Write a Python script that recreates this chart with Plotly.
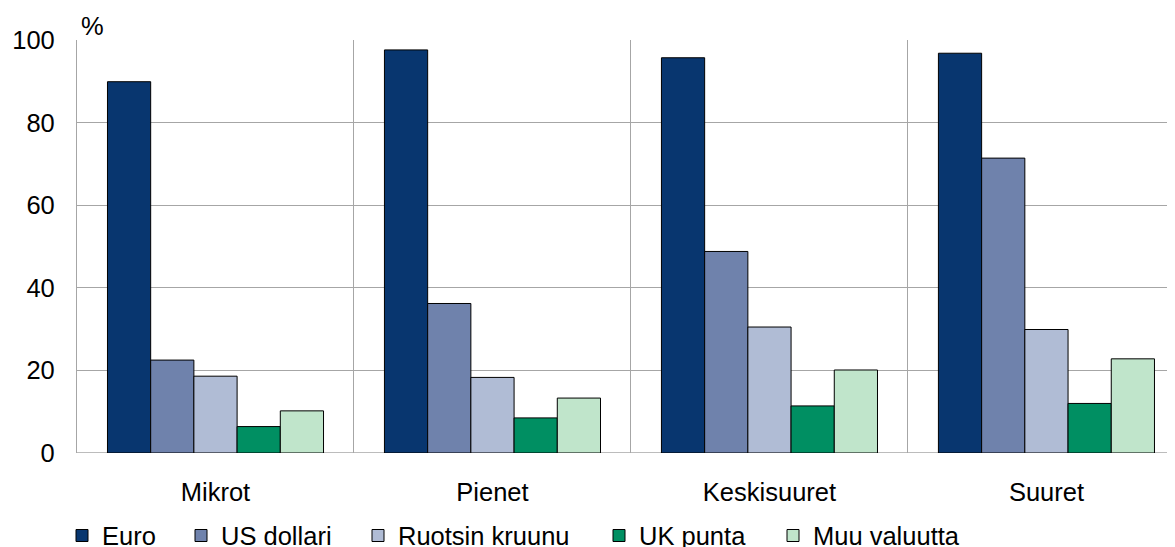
import plotly.graph_objects as go

categories = ["Mikrot", "Pienet", "Keskisuuret", "Suuret"]
series_names = ["Euro", "US dollari", "Ruotsin kruunu", "UK punta", "Muu valuutta"]
euro = [89.9, 97.6, 95.7, 96.8]
us_dollari = [22.5, 36.2, 48.8, 71.4]
ruotsin_kruunu = [18.6, 18.3, 30.5, 29.9]
uk_punta = [6.4, 8.5, 11.4, 12.0]
muu_valuutta = [10.2, 13.3, 20.1, 22.8]
y_ticks = [0, 20, 40, 60, 80, 100]

colors = ["#08366F", "#6F82AC", "#B0BCD5", "#008F62", "#C0E5CB"]
values = [euro, us_dollari, ruotsin_kruunu, uk_punta, muu_valuutta]
legend_ids = ["legend", "legend2", "legend3", "legend4", "legend5"]
legend_px = [54, 173, 350, 591, 765]  # left pixel of each legend entry

FONT = "Liberation Sans, Arial, sans-serif"
FS = 25.5
W, H = 1175, 547
L, R, T, B = 69, 0, 32, 101.5
PW = W - L - R
PH = H - T - B

fig = go.Figure()
for name, vals, col, lid in zip(series_names, values, colors, legend_ids):
    fig.add_trace(go.Bar(
        x=categories, y=vals, name=name, legend=lid,
        marker=dict(color=col, line=dict(color="#000000", width=1)),
    ))

legend_y = -(505 - (T + PH)) / PH
layout_legends = {}
for lid, px in zip(legend_ids, legend_px):
    layout_legends[lid] = dict(
        orientation="h", x=(px - L) / PW, xanchor="left", y=legend_y, yanchor="top",
        font=dict(size=FS, family=FONT), itemwidth=30, bgcolor="rgba(0,0,0,0)",
    )

fig.update_layout(
    width=W, height=H,
    margin=dict(l=L, r=R, t=T, b=B, autoexpand=False),
    paper_bgcolor="white", plot_bgcolor="white",
    barmode="group", bargap=0.22, bargroupgap=0,
    font=dict(family=FONT, size=FS, color="#000000"),
    showlegend=True,
    xaxis=dict(
        type="category", tickson="boundaries", showgrid=True,
        gridcolor="#A6A6A6", gridwidth=1.3, ticks="", range=[-0.5, 3.493],
        showline=False, zeroline=False, ticklabelstandoff=21,
        tickfont=dict(size=FS),
    ),
    yaxis=dict(
        range=[0, 100], tickvals=y_ticks, showgrid=True, gridcolor="#A6A6A6",
        gridwidth=1.3, showline=True, linecolor="#A6A6A6", linewidth=1.3,
        zeroline=False, ticks="", ticklabelstandoff=16, tickfont=dict(size=FS),
    ),
    annotations=[dict(text="%", xref="paper", yref="paper", x=0.0, y=1.0,
                      xanchor="left", yanchor="bottom", showarrow=False,
                      xshift=2, yshift=-2, font=dict(size=FS, family=FONT))],
    **layout_legends,
)
fig.add_hline(y=0, line=dict(color="#A6A6A6", width=1.3), layer="below")
fig.write_html("out.html")
